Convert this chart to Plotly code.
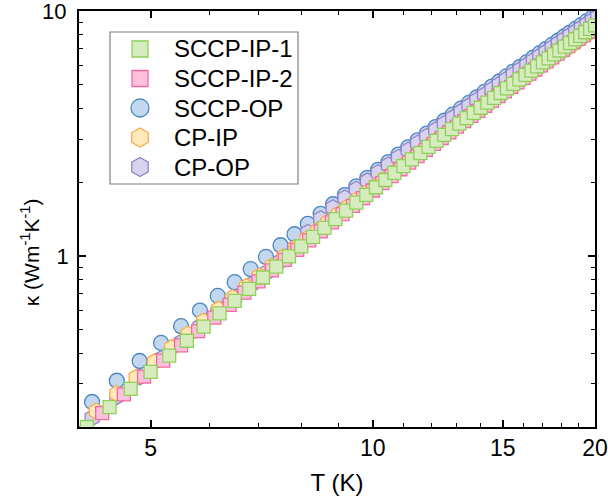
import plotly.graph_objects as go

# ---------------- data ----------------
T_ip1 = [4.1, 4.4, 4.7, 5.0, 5.3, 5.6, 5.9, 6.2, 6.5, 6.8, 7.1, 7.4, 7.7, 8.0, 8.3, 8.6, 8.9, 9.2,
         9.5, 9.8, 10.1, 10.4, 10.7, 11.0, 11.3, 11.6, 11.9, 12.2, 12.5, 12.8, 13.1, 13.4, 13.7, 14.0,
         14.3, 14.6, 14.9, 15.2, 15.5, 15.8, 16.1, 16.4, 16.7, 17.0, 17.3, 17.6, 17.9, 18.2, 18.5,
         18.8, 19.1, 19.4, 19.7, 20.0]
k_ip1 = [0.200, 0.241, 0.286, 0.336, 0.391, 0.450, 0.514, 0.582, 0.655, 0.733, 0.816, 0.903, 0.996,
         1.093, 1.195, 1.302, 1.413, 1.529, 1.650, 1.776, 1.906, 2.041, 2.182, 2.326, 2.476, 2.630,
         2.787, 2.951, 3.119, 3.291, 3.469, 3.649, 3.834, 4.025, 4.221, 4.421, 4.624, 4.831, 5.043,
         5.261, 5.482, 5.706, 5.936, 6.169, 6.406, 6.649, 6.897, 7.147, 7.401, 7.661, 7.920, 8.187,
         8.459, 8.733]

T_ip2 = [4.0, 4.3, 4.6, 4.9, 5.2, 5.5, 5.8, 6.1, 6.4, 6.7, 7.0, 7.3, 7.6, 7.9, 8.2, 8.5, 8.8, 9.1,
         9.4, 9.7, 10.0, 10.3, 10.6, 10.9, 11.2, 11.5, 11.8, 12.1, 12.4, 12.7, 13.0, 13.3, 13.6, 13.9,
         14.2, 14.5, 14.8, 15.1, 15.4, 15.7, 16.0, 16.3, 16.6, 16.9, 17.2, 17.5, 17.8, 18.1, 18.4,
         18.7, 19.0, 19.3, 19.6, 19.9]
k_ip2 = [0.189, 0.228, 0.272, 0.321, 0.373, 0.431, 0.493, 0.559, 0.631, 0.707, 0.787, 0.872, 0.962,
         1.057, 1.156, 1.260, 1.369, 1.481, 1.600, 1.722, 1.849, 1.981, 2.117, 2.258, 2.403, 2.554,
         2.709, 2.868, 3.029, 3.197, 3.370, 3.548, 3.728, 3.913, 4.103, 4.298, 4.496, 4.698, 4.902,
         5.114, 5.328, 5.548, 5.770, 5.998, 6.227, 6.463, 6.702, 6.945, 7.193, 7.440, 7.698, 7.958,
         8.219, 8.486]

T_op = [4.167, 4.5, 4.833, 5.167, 5.5, 5.833, 6.167, 6.5, 6.833, 7.167, 7.5, 7.833, 8.167, 8.5,
        8.833, 9.167, 9.5, 9.833, 10.167, 10.5, 10.833, 11.167, 11.5, 11.833, 12.167, 12.5, 12.833,
        13.167, 13.5, 13.833, 14.167, 14.5, 14.833, 15.167, 15.5, 15.833, 16.167, 16.5, 16.833,
        17.167, 17.5, 17.833, 18.167, 18.5, 18.833, 19.167, 19.5, 19.833, 20.167]
k_op = [0.253, 0.309, 0.372, 0.441, 0.516, 0.598, 0.686, 0.781, 0.882, 0.990, 1.105, 1.225, 1.352,
        1.485, 1.625, 1.771, 1.923, 2.082, 2.246, 2.416, 2.593, 2.775, 2.963, 3.157, 3.357, 3.562,
        3.773, 3.991, 4.213, 4.440, 4.671, 4.913, 5.154, 5.405, 5.657, 5.918, 6.180, 6.451, 6.725,
        7.003, 7.284, 7.573, 7.869, 8.167, 8.468, 8.773, 9.085, 9.402, 9.721]

T_cpip = [4.22, 4.50, 4.78, 5.06, 5.34, 5.62, 5.90, 6.18, 6.46, 6.74, 7.02, 7.30, 7.58, 7.86, 8.14,
          8.42, 8.70, 8.98, 9.26, 9.54, 9.82, 10.10, 10.38, 10.66, 10.94, 11.22, 11.50, 11.78, 12.06,
          12.34, 12.62, 12.90, 13.18, 13.46, 13.74, 14.02, 14.30, 14.58, 14.86, 15.14, 15.42, 15.70,
          15.98, 16.26, 16.54, 16.82, 17.10, 17.38, 17.66, 17.94, 18.22, 18.50, 18.78, 19.06, 19.34,
          19.62, 19.90]
k_cpip = [0.232, 0.274, 0.319, 0.369, 0.422, 0.479, 0.541, 0.606, 0.675, 0.749, 0.826, 0.907, 0.992,
          1.081, 1.174, 1.271, 1.372, 1.478, 1.587, 1.698, 1.816, 1.936, 2.061, 2.188, 2.320, 2.455,
          2.594, 2.737, 2.884, 3.034, 3.188, 3.345, 3.505, 3.671, 3.839, 4.010, 4.185, 4.365, 4.546,
          4.732, 4.920, 5.112, 5.309, 5.507, 5.711, 5.915, 6.124, 6.335, 6.551, 6.767, 6.989, 7.215,
          7.440, 7.670, 7.907, 8.140, 8.383]

T_cpop = T_op
k_cpop = [0.218, 0.266, 0.320, 0.380, 0.444, 0.515, 0.591, 0.672, 0.760, 0.853, 0.951, 1.079, 1.247,
          1.419, 1.573, 1.723, 1.871, 2.025, 2.185, 2.350, 2.522, 2.699, 2.883, 3.072, 3.266, 3.465,
          3.669, 3.882, 4.098, 4.320, 4.544, 4.779, 5.013, 5.259, 5.504, 5.759, 6.012, 6.275, 6.543,
          6.812, 7.086, 7.367, 7.654, 7.945, 8.238, 8.535, 8.839, 9.148, 9.456]

legend_names = ["SCCP-IP-1", "SCCP-IP-2", "SCCP-OP", "CP-IP", "CP-OP"]

x_tickvals = [5, 10, 15, 20]
x_minor = [4, 6, 7, 8, 9, 11, 12, 13, 14, 16, 17, 18, 19]
y_tickvals = [1, 10]
y_ticktext = ["1", "10"]
y_minor = [0.3, 0.4, 0.5, 0.6, 0.7, 0.8, 0.9, 2, 3, 4, 5, 6, 7, 8, 9]

x_title = "T (K)"
y_title = "κ (Wm<sup>-1</sup>K<sup>-1</sup>)"

FONT = "Liberation Sans, Arial, sans-serif"

# style per series name: symbol, fill, edge, plot size, legend size
style = {
    "SCCP-IP-1": ("square", "#d6ecbf", "#8fd05a", 13, 16),
    "SCCP-IP-2": ("square", "#ffc0dc", "#f06aa3", 13, 16),
    "SCCP-OP": ("circle", "#c3d8ee", "#4a86c2", 15, 18),
    "CP-IP": ("hexagon", "#ffeabc", "#ffa94d", 16, 19),
    "CP-OP": ("hexagon", "#d8d3ec", "#9485c8", 16, 19),
}
data = {
    "SCCP-IP-1": (T_ip1, k_ip1),
    "SCCP-IP-2": (T_ip2, k_ip2),
    "SCCP-OP": (T_op, k_op),
    "CP-IP": (T_cpip, k_cpip),
    "CP-OP": (T_cpop, k_cpop),
}
draw_order = ["SCCP-OP", "CP-OP", "CP-IP", "SCCP-IP-2", "SCCP-IP-1"]

fig = go.Figure()
for name in draw_order:
    sym, fill, edge, size, _ = style[name]
    T, k = data[name]
    fig.add_trace(go.Scatter(
        x=T, y=k, mode="markers", name=name, showlegend=False,
        marker=dict(symbol=sym, size=size, color=fill, line=dict(color=edge, width=1.3)),
    ))

# ---- legend drawn in an overlay frame (0..1) so its spacing matches the reference ----
L_x0, L_x1, L_y0, L_y1 = 0.0601, 0.4244, 0.5841, 0.9495
row_y = [0.9087, 0.8377, 0.7668, 0.6959, 0.6250]
mark_x = 0.1182
text_x = 0.1800
for name, yy in zip(legend_names, row_y):
    sym, fill, edge, _, lsize = style[name]
    fig.add_trace(go.Scatter(
        x=[mark_x], y=[yy], xaxis="x2", yaxis="y2", mode="markers", showlegend=False,
        hoverinfo="skip", cliponaxis=False,
        marker=dict(symbol=sym, size=lsize, color=fill, line=dict(color=edge, width=1.3)),
    ))
    fig.add_annotation(x=text_x, y=yy, xref="paper", yref="paper", text=name,
                       showarrow=False, xanchor="left", yanchor="middle",
                       font=dict(family=FONT, size=24, color="black"))
fig.add_shape(type="rect", xref="paper", yref="paper", x0=L_x0, x1=L_x1, y0=L_y0, y1=L_y1,
              line=dict(color="#7f7f7f", width=1.2), fillcolor="white", layer="below")

# the top y tick label sits on the page edge; plotly drops it there, so place it as text
fig.add_annotation(x=-0.021, y=1.0, xref="paper", yref="paper", text=y_ticktext[1],
                   showarrow=False, xanchor="right", yanchor="middle",
                   font=dict(family=FONT, size=22, color="black"))
# y-axis title placed explicitly
fig.add_annotation(x=-0.095, y=0.42, xref="paper", yref="paper", text=y_title,
                   showarrow=False, xanchor="center", yanchor="middle", textangle=-90,
                   font=dict(family=FONT, size=21, color="black"))

axis_common = dict(
    type="log", showgrid=False, zeroline=False, automargin=False,
    showline=True, linecolor="black", linewidth=1.5, mirror="allticks",
    ticks="inside", ticklen=7, tickwidth=1.5, tickcolor="black",
)

fig.update_layout(
    width=608, height=503,
    margin=dict(l=79, r=13, t=11, b=76),
    paper_bgcolor="white", plot_bgcolor="white",
    font=dict(family=FONT, color="black"),
    showlegend=False,
    xaxis=dict(
        axis_common, range=[0.60206, 1.30103],
        tickfont=dict(family=FONT, size=23, color="black"),
        tickmode="array", tickvals=x_tickvals, ticktext=[str(v) for v in x_tickvals],
        minor=dict(tickmode="array", tickvals=x_minor, ticks="inside", ticklen=4,
                   tickwidth=1.2, tickcolor="black"),
        title=dict(text=x_title, font=dict(family=FONT, size=24), standoff=14),
    ),
    yaxis=dict(
        axis_common, range=[-0.69897, 1.0],
        tickfont=dict(family=FONT, size=22, color="black"), ticklabelstandoff=4,
        tickmode="array", tickvals=y_tickvals, ticktext=[y_ticktext[0], ""],
        minor=dict(tickmode="array", tickvals=y_minor, ticks="inside", ticklen=4,
                   tickwidth=1.2, tickcolor="black"),
    ),
    xaxis2=dict(overlaying="x", range=[0, 1], visible=False, fixedrange=True),
    yaxis2=dict(overlaying="y", range=[0, 1], visible=False, fixedrange=True),
)

fig.write_html("out.html")
